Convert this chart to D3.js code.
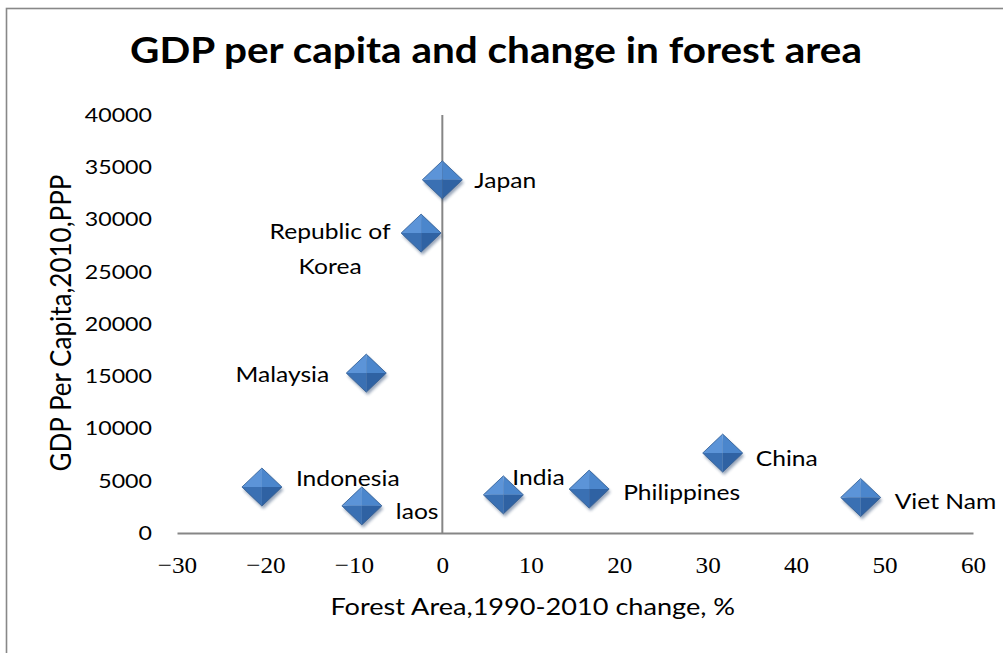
<!DOCTYPE html>
<html>
<head>
<meta charset="utf-8">
<script src="https://cdn.jsdelivr.net/npm/d3@7/dist/d3.min.js"></script>
<style>
  html, body { margin: 0; padding: 0; background: #ffffff; }
  svg { display: block; }
</style>
</head>
<body>
<svg id="chart" width="1003" height="653"></svg>
<script>
// Forest area change 1990-2010 (%) vs GDP per capita 2010 (PPP)
const countries = ["Japan", "Republic of Korea", "Malaysia", "Indonesia", "laos", "India", "Philippines", "China", "Viet Nam"];
const forestChange = [0.0, -2.4, -8.6, -20.4, -9.1, 6.9, 16.6, 31.7, 47.3];
const gdpPerCapita = [33800, 28700, 15300, 4400, 2600, 3650, 4200, 7650, 3400];
const xTicks = [-30, -20, -10, 0, 10, 20, 30, 40, 50, 60];
const yTicks = [0, 5000, 10000, 15000, 20000, 25000, 30000, 35000, 40000];

const chartTitle = "GDP per capita and change in forest area";
const xTitle = "Forest Area,1990-2010 change, %";
const yTitle = "GDP Per Capita,2010,PPP";

// label placement per country: [dx, dy, anchor]
const labelPos = {
  "Japan": [32, 8, "start"],
  "Republic of Korea": [-91, 6, "middle"],
  "Malaysia": [-37, 9, "end"],
  "Indonesia": [34, -1, "start"],
  "laos": [34, 13, "start"],
  "India": [9, -10, "start"],
  "Philippines": [34, 11, "start"],
  "China": [33, 13, "start"],
  "Viet Nam": [34, 12, "start"]
};

const svg = d3.select("#chart");
const sans = "Lato, 'Open Sans', sans-serif";
const stretch = 1.13; // text in this chart is set slightly wide

// chart frame
svg.append("rect")
  .attr("x", 6.5).attr("y", 8.5)
  .attr("width", 1010).attr("height", 660)
  .attr("fill", "#ffffff")
  .attr("stroke", "#888888").attr("stroke-width", 1.6);

const x = d3.scaleLinear().domain([-30, 60]).range([177, 973]);
const y = d3.scaleLinear().domain([0, 40000]).range([533, 115]);

// title
svg.append("text")
  .attr("transform", `translate(496,63) scale(1.125,1)`)
  .attr("text-anchor", "middle")
  .style("font-family", sans).style("font-weight", "bold").style("font-size", "36px")
  .attr("fill", "#000")
  .text(chartTitle);

// y tick labels (left side, no axis line)
const yAxis = d3.axisLeft(y).tickValues(yTicks).tickSize(0).tickPadding(0).tickFormat(d3.format("d"));
const gy = svg.append("g").attr("transform", "translate(152,0)").call(yAxis);
gy.select(".domain").remove();
gy.selectAll("text")
  .attr("x", 0)
  .attr("transform", "scale(1.16,1)")
  .style("font-family", sans).style("font-size", "20px").attr("fill", "#000");

// x axis along y = 0
const xAxis = d3.axisBottom(x).tickValues(xTicks).tickSize(0).tickPadding(23)
  .tickFormat(d => d < 0 ? "\u2212" + Math.abs(d) : String(d));
const gx = svg.append("g").attr("transform", `translate(0,${y(0)})`).call(xAxis);
gx.select(".domain").attr("stroke", "#868686").attr("stroke-width", 2);
gx.selectAll("text")
  .attr("transform", "scale(1.05,1)")
  .style("font-family", "'Liberation Serif', 'DejaVu Serif', serif").style("font-size", "24px").attr("fill", "#000");

// vertical axis line at x = 0
svg.append("line")
  .attr("x1", x(0)).attr("x2", x(0))
  .attr("y1", y(40000)).attr("y2", y(0))
  .attr("stroke", "#868686").attr("stroke-width", 2);

// axis titles
svg.append("text")
  .attr("transform", `translate(${x(10) + 2},615) scale(${stretch},1)`)
  .attr("text-anchor", "middle")
  .style("font-family", sans).style("font-size", "24px").attr("fill", "#000")
  .text(xTitle);

svg.append("text")
  .attr("transform", `translate(71,${y(20000) - 1}) scale(1.1,1) rotate(-90)`)
  .attr("text-anchor", "middle")
  .style("font-family", sans).style("font-size", "26px").attr("fill", "#000")
  .text(yTitle);

// bevelled diamond markers
const defs = svg.append("defs");
const blur = defs.append("filter").attr("id", "shadow").attr("x", "-50%").attr("y", "-50%").attr("width", "200%").attr("height", "200%");
blur.append("feGaussianBlur").attr("stdDeviation", 1.6);

const data = countries.map((c, i) => ({ name: c, fx: forestChange[i], gdp: gdpPerCapita[i] }));
const rx = 20, ry = 19;

const marks = svg.append("g").selectAll("g.mark")
  .data(data).join("g")
  .attr("class", "mark")
  .attr("transform", d => `translate(${x(d.fx)},${y(d.gdp)})`);

marks.append("path")
  .attr("d", `M0,${-ry} L${rx},0 L0,${ry} L${-rx},0 Z`)
  .attr("transform", "translate(1.5,3)")
  .attr("fill", "#1d3b66").attr("opacity", 0.45)
  .attr("filter", "url(#shadow)");

const facets = [
  { d: `M0,0 L${-rx},0 L0,${-ry} Z`, fill: "#5c94d8" },  // top-left
  { d: `M0,0 L0,${-ry} L${rx},0 Z`, fill: "#4b86cc" },   // top-right
  { d: `M0,0 L${rx},0 L0,${ry} Z`, fill: "#2f62a3" },    // bottom-right
  { d: `M0,0 L0,${ry} L${-rx},0 Z`, fill: "#3a70b3" }    // bottom-left
];
facets.forEach(f => {
  marks.append("path").attr("d", f.d).attr("fill", f.fill);
});
marks.append("path")
  .attr("d", `M0,${-ry} L${rx},0 L0,${ry} L${-rx},0 Z`)
  .attr("fill", "none").attr("stroke", "#2d5a92").attr("stroke-width", 0.8);

// country labels
const labels = svg.append("g").selectAll("text.lbl")
  .data(data).join("text")
  .attr("class", "lbl")
  .attr("transform", d => `translate(${x(d.fx) + labelPos[d.name][0]},${y(d.gdp) + labelPos[d.name][1]}) scale(1.12,1)`)
  .attr("text-anchor", d => labelPos[d.name][2])
  .style("font-family", sans).style("font-size", "22px").attr("fill", "#000");

labels.each(function(d) {
  const t = d3.select(this);
  if (d.name === "Republic of Korea") {
    t.append("tspan").attr("x", 0).attr("dy", 0).text("Republic of");
    t.append("tspan").attr("x", 0).attr("dy", 35).text("Korea");
  } else {
    t.text(d.name);
  }
});
</script>
</body>
</html>
